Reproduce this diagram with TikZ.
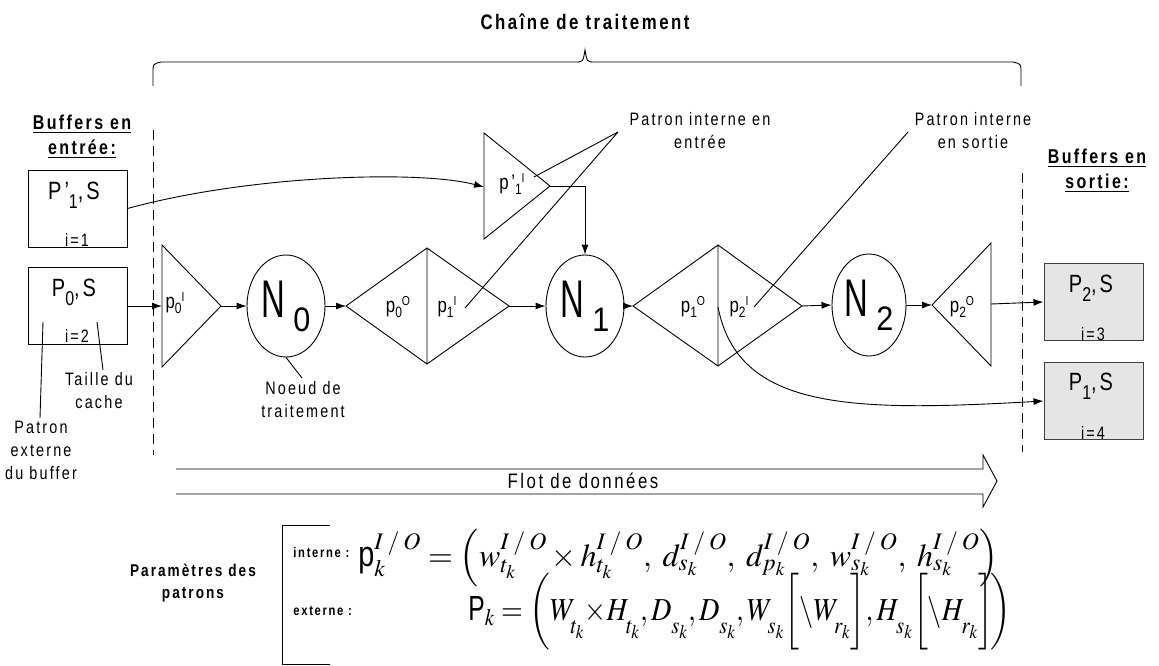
\documentclass[tikz,border=0pt]{standalone}
\usepackage{mathptmx}
\usepackage{amsmath}
\usepackage{fontspec}
\setmainfont{Liberation Sans}[FakeStretch=0.8,LetterSpace=12]
\newfontfamily\nfont{Liberation Sans}[FakeStretch=0.62]
\newfontfamily\dfont{Liberation Sans}[FakeStretch=0.9]
\usetikzlibrary{arrows.meta,shapes.geometric}
\newcommand\fs[1]{\fontsize{#1}{#1}\selectfont}
\newcommand\psub[3]{{\fs{21}#1}\raisebox{-5pt}{\fs{15}#2}\raisebox{7pt}{\fs{13}#3}}
\newcommand\bufl[2]{{\fs{25}#1}\raisebox{-9pt}{\fs{20}#2}{\fs{25},S}}
\newcommand\nlab[1]{{\nfont\fs{53}N}\hspace{8pt}\raisebox{-14pt}{\dfont\fs{34}#1}}
\newcommand\IO{I\mkern3mu/\mkern3mu O}
\newcommand\ls[1]{\raisebox{-9pt}{$\scriptstyle #1$}}
\begin{document}
\begin{tikzpicture}[x=1pt,y=-1pt,
  line width=0.9pt,
  arr/.style={-{Latex[length=10pt,width=7pt]}},
  shp/.style={draw,line width=0.9pt,line join=miter},
  lbl/.style={font={\fontsize{18}{23}\selectfont},align=center,inner sep=0pt},
  ttl/.style={font={\bfseries\fontsize{20}{25}\selectfont},align=center,inner sep=0pt},
  buf/.style={draw,line width=1pt,minimum width=99pt,minimum height=77pt,inner sep=0pt},
  obuf/.style={buf,fill=black!10,draw=black!75},
  proc/.style={draw,ellipse,minimum width=78pt,minimum height=102pt,inner sep=0pt},
  dsh/.style={dash pattern=on 10pt off 6pt},
  idx/.style={inner sep=0pt,font=\fs{18}},
  txt/.style={inner sep=0pt}]
\useasboundingbox (0,0) rectangle (1159,666);

% title and brace
\node[ttl,font={\bfseries\fontsize{21}{25}\selectfont}] (title) at (585,22) {Chaîne de traitement};
\draw (153,86) -- (153,72) .. controls (153,64) .. (161,62) -- (575,62)
  .. controls (583,62) .. (585,50) .. controls (587,62) .. (595,62) -- (1013,62)
  .. controls (1021,64) .. (1021,72) -- (1021,86);

% dashed separators
\draw[dsh] (153,130) -- (153,455);
\draw[dsh] (1022,173) -- (1022,452);

% buffer titles
\node[ttl] (tin) at (82,137) {\underline{Buffers en}\\\underline{entrée:}};
\node[ttl] (tout) at (1097,171) {\underline{Buffers en}\\\underline{sortie:}};

% input buffers
\node[buf] (bin1) at (77.5,208.5) {};
\node[txt] (bin1t) at (74,195) {\bufl{P'}{1}};
\node[idx] (bin1i) at (77,240) {i=1};
\node[buf] (bin2) at (77.5,306) {};
\node[txt] (bin2t) at (74,292) {\bufl{P}{0}};
\node[idx] (bin2i) at (77,336) {i=2};

% output buffers
\node[obuf] (bout1) at (1093.5,302) {};
\node[txt] (bout1t) at (1091,288) {\bufl{P}{2}};
\node[idx] (bout1i) at (1093,334) {i=3};
\node[obuf] (bout2) at (1093.5,401) {};
\node[txt] (bout2t) at (1091,386) {\bufl{P}{1}};
\node[idx] (bout2i) at (1093,433) {i=4};

% triangles (patterns)
\draw[shp] (162,245) -- (221,306) -- (162,367) -- cycle;
\coordinate (t0w) at (162,306); \coordinate (t0e) at (221,306);
\node[txt] (t0l) at (175,303) {\psub{p}{0}{I}};

\draw[shp] (484,133) -- (550,186) -- (484,239) -- cycle;
\coordinate (t1w) at (484,187); \coordinate (t1e) at (550,186);
\node[txt] (t1l) at (512,184) {\psub{p'}{1}{I}};

\draw[shp] (991,243) -- (932,305) -- (991,366) -- cycle;
\coordinate (t2w) at (932,305); \coordinate (t2e) at (991,304);
\node[txt] (t2l) at (962,307) {\psub{p}{2}{O}};

% diamonds
\draw[shp] (346,306) -- (427,248) -- (509,306) -- (427,364) -- cycle (427,248) -- (427,364);
\coordinate (d1w) at (346,306); \coordinate (d1e) at (509,306);
\node[txt] (d1a) at (398,307) {\psub{p}{0}{O}};
\node[txt] (d1b) at (447,307) {\psub{p}{1}{I}};

\draw[shp] (633,306) -- (718,245) -- (802,306) -- (718,366) -- cycle (718,245) -- (718,366);
\coordinate (d2w) at (633,306); \coordinate (d2e) at (802,306); \coordinate (d2c) at (718,307);
\node[txt] (d2a) at (693,307) {\psub{p}{1}{O}};
\node[txt] (d2b) at (739,307) {\psub{p}{2}{I}};

% processing nodes
\node[proc] (n0) at (286,306) {\nlab{0}};
\node[proc] (n1) at (585,306) {\nlab{1}};
\node[proc,minimum width=74pt] (n2) at (869,305) {\nlab{2}};

% flow connectors
\draw[arr] (bin2.east) -- (t0w);
\draw[arr] (t0e) -- (n0.west);
\draw[arr] (n0.east) -- (d1w);
\draw[arr] (d1e) -- (n1.west);
\draw[arr] (t1e) -| (n1.north);
\draw[arr] (n1.east) -- (d2w);
\draw[arr] (d2e) -- (n2.west);
\draw[arr] (n2.east) -- (t2w);
\draw[arr] (t2e) -- (bout1.west);
\draw[arr] (bin1.east) .. controls (250,175) and (420,170) .. (t1w);
\draw[arr] (d2c) .. controls (738,410) and (850,412) .. (bout2.west);

% annotations
\node[lbl] (lie) at (700,131) {Patron interne en\\entrée};
\coordinate (lieA) at (618,132);
\coordinate (lieB) at (534,177);
\coordinate (lieC) at (465,308);
\draw (lieA) -- (lieB) (lieA) -- (lieC);

\node[lbl] (lis) at (973,131) {Patron interne\\en sortie};
\coordinate (lisA) at (908,132);
\coordinate (lisB) at (754,307);
\draw (lisA) -- (lisB);

\node[lbl] (ltc) at (99,391) {Taille du\\cache};
\coordinate (ltcA) at (103,370);
\coordinate (ltcB) at (97,322);
\draw (ltcA) -- (ltcB);

\node[lbl] (lpe) at (41,450) {Patron\\externe\\du buffer};
\coordinate (lpeA) at (40,418);
\coordinate (lpeB) at (43,322);
\draw (lpeA) -- (lpeB);

\node[lbl] (lnt) at (303,400) {Noeud de\\traitement};
\coordinate (lntA) at (302,378);
\draw (lntA) -- (n0.south);

% data flow arrow
\draw[line width=0.9pt] (176,469) -- (983,469) -- (983,455) -- (997,481) -- (983,507) -- (983,494) -- (176,494);
\node[lbl,font=\fs{21}] (flot) at (583,481) {Flot de données};

% parameters
\node[ttl,font={\bfseries\fontsize{17}{22}\selectfont}] (par) at (193,583) {Paramètres des\\patrons};
\draw (330,525) -- (282,525) -- (282,664) -- (330,664);
\node[txt,font={\bfseries\fs{14}},anchor=west] (int) at (293,552) {interne :};
\node[txt,font={\bfseries\fs{14}},anchor=west] (ext) at (293,611) {externe :};
\node[txt,anchor=base west,font=\fs{32}] (f1) at (358,566)
  {$\text{\fontsize{36}{36}\selectfont p}^{\IO}_{k} = \left(w^{\IO}_{t_k}\times h^{\IO}_{t_k},\; d^{\IO}_{s_k},\; d^{\IO}_{p_k},\; w^{\IO}_{s_k},\; h^{\IO}_{s_k}\right)$};
\node[txt,anchor=base west,font=\fs{32}] (f2) at (468,620)
  {\scalebox{0.88}[1]{$\text{\fontsize{35}{35}\selectfont P}_{k} = \left(\rule[-32pt]{0pt}{76pt}W_{\ls{t_k}}{\times} H_{\ls{t_k}}, D_{\ls{s_k}}, D_{\ls{s_k}}, W_{\ls{s_k}}\!\left[\rule[-24pt]{0pt}{58pt}\backslash W_{\ls{r_k}}\right]\!, H_{\ls{s_k}}\!\left[\rule[-24pt]{0pt}{58pt}\backslash H_{\ls{r_k}}\right]\!\right)$}};
\end{tikzpicture}
\end{document}
